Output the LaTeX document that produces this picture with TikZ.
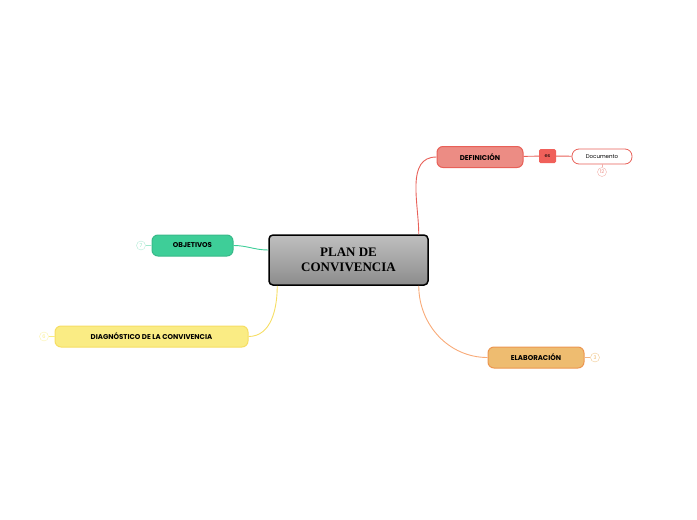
\documentclass[tikz,border=0pt]{standalone}
\usepackage{fontspec}
\setmainfont{Liberation Serif}
\newfontfamily\mapfont{Poppins}
\usetikzlibrary{positioning}
\definecolor{defred}{RGB}{236,140,132}
\definecolor{defline}{RGB}{232,96,88}
\definecolor{esred}{RGB}{240,96,90}
\definecolor{objgreen}{RGB}{62,206,152}
\definecolor{diagyellow}{RGB}{250,236,132}
\definecolor{diagline}{RGB}{246,222,100}
\definecolor{elaborange}{RGB}{238,188,112}
\definecolor{elabline}{RGB}{236,150,80}
\definecolor{lineorange}{RGB}{248,170,120}

\begin{document}
\begin{tikzpicture}[x=1pt,y=-1pt,
    topic/.style={rectangle, rounded corners=6pt, draw, line width=1pt, minimum height=21pt,
        font=\mapfont\fontsize{7}{8}\selectfont\bfseries, inner xsep=6pt},
    counter/.style={circle, draw, inner sep=0pt, minimum size=9pt, font=\mapfont\fontsize{5}{5}\selectfont},
    link/.style={line width=0.9pt}
]
    \useasboundingbox (0,0) rectangle (697,520);
    % central topic
    \node[rectangle, rounded corners=4pt, draw=black, line width=1.5pt, top color=gray!50, bottom color=gray!90,
        minimum width=159pt, minimum height=50pt, align=center, font=\bfseries\fontsize{13}{15}\selectfont]
        (plan) at (348.5,260) {PLAN DE\\CONVIVENCIA};

    % main topics
    \node[topic, fill=defred, draw=defline, minimum width=86pt] (def) at (480,157) {DEFINICIÓN};
    \node[topic, fill=objgreen, draw=objgreen!90!black, minimum width=81pt] (obj) at (192.5,245.5) {OBJETIVOS};
    \node[topic, fill=diagyellow, draw=diagline, minimum width=193pt] (diag) at (151.5,336.5) {DIAGNÓSTICO DE LA CONVIVENCIA};
    \node[topic, fill=elaborange, draw=elabline, minimum width=96pt] (elab) at (536,357.5) {ELABORACIÓN};

    % subtopics
    \node[rectangle, rounded corners=1.5pt, fill=esred, minimum width=17pt, minimum height=14pt, inner sep=0pt,
        font=\mapfont\fontsize{5}{5}\selectfont] (es) at (547.5,156) {es};
    \node[rectangle, rounded corners=7pt, draw=defline, fill=white, line width=0.8pt, minimum width=60pt,
        minimum height=15pt, font=\mapfont\fontsize{5.5}{6}\selectfont] (doc) at (602,156.5) {Documento};

    % counters
    \node[counter, draw=defred!70, text=defred] (c12) at (602,172) {12};
    \node[counter, draw=objgreen!40, text=objgreen!60] (c7) at (141,245.5) {7};
    \node[counter, draw=diagyellow!70, text=diagyellow] (c6) at (44,336.5) {6};
    \node[counter, draw=elaborange!80, text=elaborange] (c3) at (595,357.5) {3};

    % connectors
    \draw[link, defline] (plan.north east) ++(-10,0) coordinate (p1) to[out=90,in=180] (def.west);
    \draw[link, lineorange] (plan.south east) ++(-10,0) coordinate (p2) to[out=-90,in=180] (elab.west);
    \draw[link, objgreen] (plan.west) ++(0,-10) coordinate (p3) to[out=180,in=0] (obj.east);
    \draw[link, diagline] (plan.south west) ++(9,0) coordinate (p4) to[out=-90,in=0] (diag.east);
    \draw[link, defline] (def) -- (es);
    \draw[link, defline] (es) -- (doc);
    \draw[link, defred!70] (doc) -- (c12);
    \draw[link, objgreen!50] (obj) -- (c7);
    \draw[link, diagyellow] (diag) -- (c6);
    \draw[link, elabline!70] (elab) -- (c3);
\end{tikzpicture}
\end{document}
